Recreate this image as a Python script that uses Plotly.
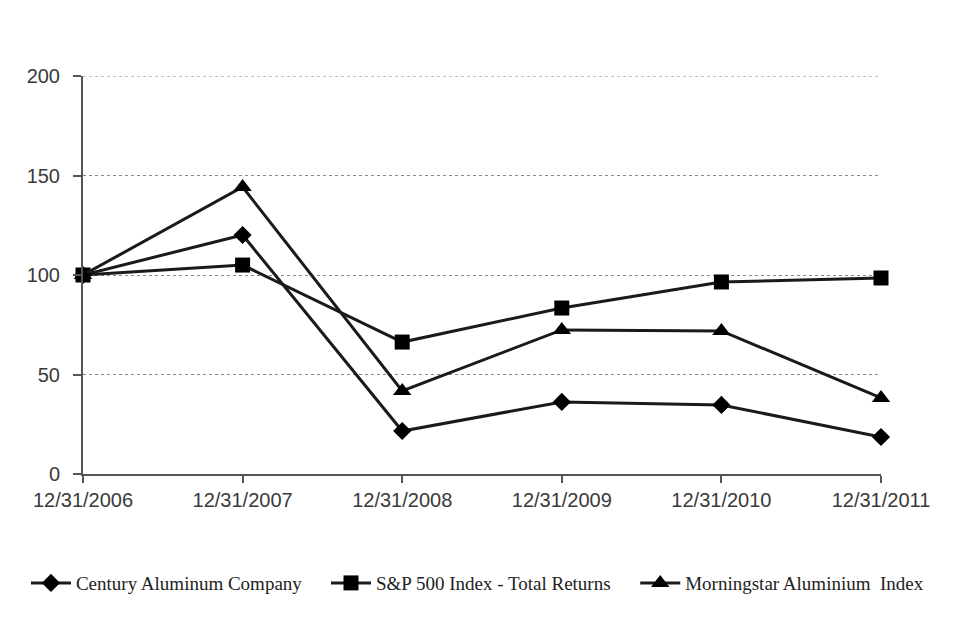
import plotly.graph_objects as go

dates = ["12/31/2006", "12/31/2007", "12/31/2008", "12/31/2009", "12/31/2010", "12/31/2011"]
century = [100, 120.1, 21.6, 36.2, 34.7, 18.6]
sp500 = [100, 105.0, 66.3, 83.4, 96.5, 98.5]
morningstar = [100, 144.2, 41.7, 72.4, 71.9, 38.2]
y_ticks = [0, 50, 100, 150, 200]

xs = list(range(len(dates)))

fig = go.Figure()
series = [
    ("Century Aluminum Company", century, "diamond", 14, "legend", -0.0715),
    ("S&P 500 Index - Total Returns", sp500, "square", 15, "legend2", 0.3045),
    ("Morningstar Aluminium  Index", morningstar, "triangle-up", 16, "legend3", 0.692),
]
legend_font = dict(family="Liberation Serif, Times New Roman", size=19, color="#222222")
layout_legends = {}
for name, vals, sym, sz, lg, lx in series:
    fig.add_trace(go.Scatter(
        x=xs, y=vals, name=name, mode="lines+markers",
        line=dict(color="#1a1a1a", width=3),
        marker=dict(symbol=sym, size=sz, color="#000000"),
        cliponaxis=False, legend=lg,
    ))
    layout_legends[lg] = dict(
        orientation="h", x=lx, xanchor="left", y=-0.274, yanchor="middle",
        font=legend_font, itemwidth=40, bgcolor="rgba(0,0,0,0)",
    )

# top gridline (plotly hides gridline on the range edge)
fig.add_shape(type="line", xref="paper", yref="y", x0=0, x1=1,
              y0=y_ticks[-1], y1=y_ticks[-1],
              line=dict(color="#888888", width=1, dash="dot"), layer="below")

fig.update_layout(
    width=960, height=618,
    margin=dict(l=75, r=87, t=68, b=152),
    paper_bgcolor="white", plot_bgcolor="white",
    font=dict(family="Liberation Sans, Arial", size=20, color="#3a3a3a"),
    showlegend=True,
    **layout_legends,
    xaxis=dict(
        range=[0, 5], tickvals=xs, ticktext=dates,
        showgrid=False, zeroline=False, automargin=False,
        showline=True, linecolor="#555555", linewidth=2,
        ticks="outside", ticklen=7, tickcolor="#555555", tickwidth=2,
        tickfont=dict(size=20, color="#3a3a3a"),
    ),
    yaxis=dict(
        range=[0, 200], tickvals=y_ticks,
        showgrid=True, gridcolor="#888888", griddash="dot", gridwidth=1,
        zeroline=False, automargin=False,
        showline=True, linecolor="#555555", linewidth=2,
        ticks="outside", ticklen=8, tickcolor="#555555", tickwidth=2,
        ticklabelstandoff=9,
        tickfont=dict(size=20, color="#3a3a3a"),
    ),
)

fig.write_html("out.html")
